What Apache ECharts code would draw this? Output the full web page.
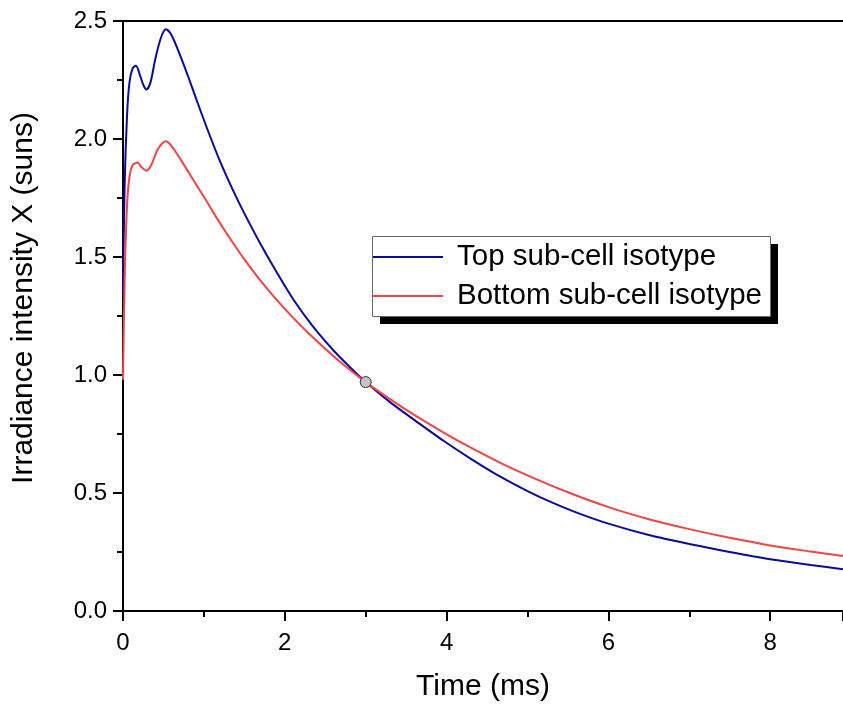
<!DOCTYPE html>
<html>
<head>
<meta charset="utf-8">
<script src="https://cdn.jsdelivr.net/npm/echarts@6/dist/echarts.min.js"></script>
<style>
html,body{margin:0;padding:0;background:#fff;}
#chart{width:843px;height:707px;}
</style>
</head>
<body>
<div id="chart"></div>
<script>
// ---- Data ----
const topName = 'Top sub-cell isotype';
const bottomName = 'Bottom sub-cell isotype';

const timeTop = [0, 0.02, 0.05, 0.08, 0.12, 0.16, 0.21, 0.25, 0.29, 0.34, 0.40, 0.47, 0.53, 0.60, 0.70, 0.80, 0.91, 1.05, 1.20, 1.35, 1.50, 1.70, 1.90, 2.11, 2.35, 2.60, 2.80, 3.0, 3.3, 3.6, 3.98, 4.3, 4.67, 5.0, 5.3, 5.6, 6.01, 6.5, 7.0, 7.5, 8.0, 8.5, 8.9];
const valuesTop = [1.35, 1.80, 2.10, 2.24, 2.30, 2.31, 2.27, 2.23, 2.21, 2.24, 2.34, 2.43, 2.465, 2.44, 2.36, 2.27, 2.165, 2.035, 1.905, 1.79, 1.685, 1.555, 1.435, 1.318, 1.205, 1.105, 1.035, 0.97, 0.885, 0.81, 0.717, 0.645, 0.568, 0.508, 0.46, 0.418, 0.369, 0.322, 0.284, 0.25, 0.219, 0.195, 0.177];

const timeBottom = [0, 0.02, 0.05, 0.08, 0.12, 0.18, 0.23, 0.29, 0.35, 0.42, 0.48, 0.53, 0.60, 0.70, 0.87, 1.0, 1.15, 1.30, 1.50, 1.70, 1.90, 2.11, 2.30, 2.52, 2.75, 3.0, 3.3, 3.6, 3.98, 4.3, 4.67, 5.0, 5.5, 6.01, 6.5, 7.0, 7.5, 8.0, 8.5, 8.9];
const valuesBottom = [0.98, 1.40, 1.72, 1.84, 1.89, 1.90, 1.88, 1.866, 1.89, 1.95, 1.98, 1.99, 1.97, 1.92, 1.826, 1.755, 1.67, 1.59, 1.49, 1.40, 1.318, 1.24, 1.175, 1.105, 1.037, 0.97, 0.898, 0.831, 0.753, 0.692, 0.627, 0.575, 0.503, 0.439, 0.389, 0.347, 0.31, 0.278, 0.252, 0.233];

const crossPoint = [3.0, 0.97];

const xMin = 0, xMax = 8.9, xInterval = 2;
const yMin = 0, yMax = 2.5, yInterval = 0.5;

const xTitle = 'Time (ms)';
const yTitle = 'Irradiance intensity X (suns)';

// ---- Chart ----
const pair = (xs, ys) => xs.map((x, i) => [x, ys[i]]);
const FONT = 'Liberation Sans, Arial, sans-serif';
const axisLineStyle = { color: '#000', width: 2 };

const chart = echarts.init(document.getElementById('chart'), null, { renderer: 'canvas' });
chart.setOption({
  animation: false,
  backgroundColor: '#fff',
  grid: { left: 123, right: 0, top: 21, bottom: 96, containLabel: false },
  graphic: [
    { type: 'rect', z: 3, shape: { x: 380, y: 244, width: 398, height: 80 }, style: { fill: '#000' } },
    { type: 'rect', z: 3, shape: { x: 372.5, y: 236.5, width: 398, height: 80 }, style: { fill: '#fff', stroke: '#666', lineWidth: 1 } }
  ],
  legend: {
    orient: 'vertical',
    left: 373, top: 242,
    data: [topName, bottomName],
    icon: 'rect',
    itemWidth: 70, itemHeight: 2,
    itemGap: 9,
    padding: 0,
    textStyle: { fontSize: 29.5, color: '#000', fontFamily: FONT, padding: [0, 0, 0, 9] }
  },
  xAxis: [{
    type: 'value', min: xMin, max: xMax, interval: xInterval,
    name: xTitle, nameLocation: 'middle', nameGap: 61,
    nameTextStyle: { fontSize: 30, color: '#000', fontFamily: FONT },
    axisLine: { show: true, onZero: false, lineStyle: axisLineStyle },
    axisTick: { show: true, inside: false, length: 10, lineStyle: axisLineStyle },
    minorTick: { show: true, splitNumber: 2, length: 6, lineStyle: axisLineStyle },
    axisLabel: { fontSize: 24, color: '#000', fontFamily: FONT, margin: 20, showMaxLabel: false },
    splitLine: { show: false }
  }, {
    type: 'value', position: 'top', min: xMin, max: xMax,
    axisLine: { show: true, onZero: false, lineStyle: axisLineStyle },
    axisTick: { show: false }, axisLabel: { show: false }, splitLine: { show: false }
  }],
  yAxis: {
    type: 'value', min: yMin, max: yMax, interval: yInterval,
    name: yTitle, nameLocation: 'middle', nameGap: 84,
    nameTextStyle: { fontSize: 30, color: '#000', fontFamily: FONT, padding: [0, 0, 0, 36] },
    axisLine: { show: true, onZero: false, lineStyle: axisLineStyle },
    axisTick: { show: true, inside: false, length: 10, lineStyle: axisLineStyle },
    minorTick: { show: true, splitNumber: 2, length: 6, lineStyle: axisLineStyle },
    axisLabel: { fontSize: 24, color: '#000', fontFamily: FONT, margin: 16, formatter: v => v.toFixed(1) },
    splitLine: { show: false }
  },
  series: [{
    name: topName, type: 'line', data: pair(timeTop, valuesTop),
    showSymbol: false, symbol: 'none', smooth: 0.3,
    lineStyle: { color: '#0a0aa0', width: 2 }, itemStyle: { color: '#0a0aa0' }
  }, {
    name: bottomName, type: 'line', data: pair(timeBottom, valuesBottom),
    showSymbol: false, symbol: 'none', smooth: 0.3,
    lineStyle: { color: '#f24444', width: 2 }, itemStyle: { color: '#f24444' }
  }, {
    name: 'crossing', type: 'scatter', data: [crossPoint],
    symbolSize: 11, z: 5,
    itemStyle: { color: '#c4c4c4', borderColor: '#333', borderWidth: 1, opacity: 1 }
  }]
});
</script>
</body>
</html>
